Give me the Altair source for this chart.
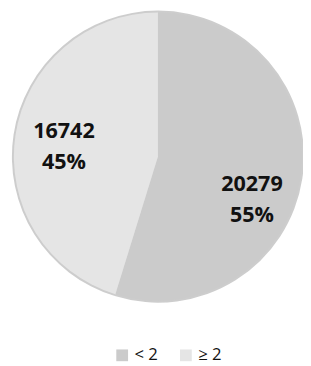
import altair as alt
import pandas as pd

categories = ["< 2", "≥ 2"]
counts = [20279, 16742]
percents = ["55%", "45%"]
order_idx = [0, 1]
colors = ["#cbcbcb", "#e5e5e5"]

df = pd.DataFrame({
    "cat": categories,
    "count": counts,
    "pct": percents,
    "idx": order_idx,
    "countlabel": [str(c) for c in counts],
})

base = alt.Chart(df).encode(
    theta=alt.Theta("count:Q", stack=True),
    order=alt.Order("idx:Q"),
)

rim = base.mark_arc(outerRadius=149, color="#b8b8b8", opacity=0.7)

pie = base.mark_arc(outerRadius=147).encode(
    color=alt.Color(
        "cat:N",
        scale=alt.Scale(domain=categories, range=colors),
        sort=categories,
        legend=alt.Legend(
            title=None,
            orient="none",
            direction="horizontal",
            legendX=103,
            legendY=342,
            symbolType="square",
            symbolSize=144,
            symbolStrokeWidth=0,
            labelFontSize=17,
            labelFont="Open Sans",
            labelColor="#111",
            labelOffset=4,
            columnPadding=20,
            labelLimit=0,
        ),
    )
)

text_layers = []
offsets = {"< 2": (14, 45), "≥ 2": (-11, 20)}
for cat in categories:
    d1, d2 = offsets[cat]
    sel = alt.datum.cat == cat
    text_layers.append(
        base.mark_text(radius=97, font="Open Sans", fontWeight="bold", fontSize=22,
                       color="#111", dy=d1).encode(
            text=alt.condition(sel, "countlabel:N", alt.value(""))
        )
    )
    text_layers.append(
        base.mark_text(radius=97, font="Open Sans", fontWeight="bold", fontSize=22,
                       color="#111", dy=d2).encode(
            text=alt.condition(sel, "pct:N", alt.value(""))
        )
    )

chart = alt.layer(rim, pie, *text_layers).properties(
    width=296,
    height=296,
    autosize=alt.AutoSizeParams(type="none"),
    padding={"left": 5, "top": 0, "right": 0, "bottom": 62},
).configure_view(stroke=None)

chart.save("out.html", embed_options={"renderer": "svg", "actions": False})
